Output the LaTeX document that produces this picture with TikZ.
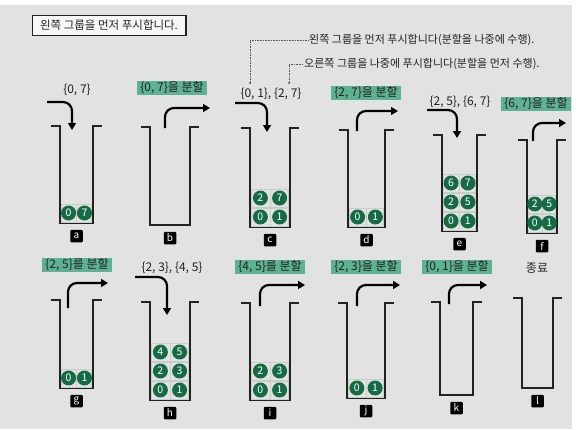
\documentclass[tikz,border=0pt]{standalone}
\usepackage{fontspec}
\setmainfont{Noto Sans CJK KR}
\usepackage{tikz}
\usetikzlibrary{arrows.meta,calc}
\definecolor{cPaper}{RGB}{226,226,226}
\definecolor{cInk}  {RGB}{34,34,34}
\definecolor{cBall} {RGB}{22,107,71}
\definecolor{cMark} {RGB}{92,178,146}
\definecolor{cCell} {RGB}{200,206,202}
\tikzset{
  wall/.style={draw=cInk,line width=1.3pt},
  tag/.style={fill=black,text=white,rounded corners=1pt,minimum size=12.5pt,
              inner sep=0pt,font=\fontsize{10}{10}\selectfont},
  ball/.style={circle,fill=cBall,minimum size=15pt,inner sep=0pt,text=white,
               font=\fontsize{10.5}{10.5}\selectfont},
  cell/.style={draw=cCell,line width=0.7pt},
  push/.style={-{Triangle[length=7pt,width=8pt]},draw=black,line width=2.2pt,
               rounded corners=9pt},
  txt/.style={text=cInk,inner sep=1pt,font=\fontsize{12}{14}\selectfont},
  hilite/.style={txt,fill=cMark,inner xsep=3pt,inner ysep=0.5pt},
  note/.style={txt,font=\fontsize{11}{13}\selectfont},
  dotline/.style={densely dotted,gray!70!black,line width=0.6pt},
}
% jar: name, left wall, right wall, top, bottom
\newcommand{\jar}[5]{%
  \coordinate (#1tl) at (#2,#4); \coordinate (#1bl) at (#2,#5);
  \coordinate (#1br) at (#3,#5); \coordinate (#1tr) at (#3,#4);
  \draw[wall] ($(#1tl)+(-9,0)$) -- (#1tl) -- (#1bl) -- (#1br) -- (#1tr) -- ++(9,0);
  \node[tag] (#1tag) at ($(#1bl)!0.5!(#1br)+(0,13)$) {#1};}
% one stacked group: jar, level, left number, right number
\newcommand{\grp}[4]{%
  \draw[cell] ($(#1bl)+(1.5,{-19*(#2-1)-1})$) rectangle ($(#1br)+(-1.5,{-19*#2})$);
  \draw[cell] ($(#1bl)!0.5!(#1br)+(0,{-19*(#2-1)-1})$) -- ++(0,-18);
  \node[ball] (#1g#2l) at ($(#1bl)!0.26!(#1br)+(0,{-19*#2+9})$) {#3};
  \node[ball] (#1g#2r) at ($(#1bl)!0.74!(#1br)+(0,{-19*#2+9})$) {#4};}

\begin{document}
\begin{tikzpicture}[x=1pt,y=-1pt]
  \useasboundingbox (0,0) rectangle (579,429);
  \fill[white] (0,0) rectangle (579,429);
  \fill[cPaper] (0,5) rectangle (572,429);

  % title and the two notes
  \node[txt,font=\fontsize{11.5}{13}\selectfont,draw=cInk,thin,fill=gray!6,
        inner xsep=8pt,inner ysep=5pt] (title)
     at (109,25) {왼쪽 그룹을 먼저 푸시합니다.};
  \draw[cInk,line width=1.6pt] (title.north east) -- (title.south east) -- (title.south west);
  \node[note,anchor=west] (n1) at (308,40) {왼쪽 그룹을 먼저 푸시합니다(분할을 나중에 수행).};
  \node[note,anchor=west] (n2) at (303,64) {오른쪽 그룹을 나중에 푸시합니다(분할을 먼저 수행).};

  % first row
  \jar{a}{60}{93}{126}{223}
  \jar{b}{150}{190}{127}{225}
  \jar{c}{250}{290}{128}{227}
  \jar{d}{348}{385}{130}{227}
  \jar{e}{442}{477}{135}{231}
  \jar{f}{527}{557}{140}{233}
  % second row
  \jar{g}{60}{93}{300}{388}
  \jar{h}{150}{190}{302}{400}
  \jar{i}{250}{290}{303}{400}
  \jar{j}{347}{385}{303}{398}
  \jar{k}{440}{473}{302}{395}
  \jar{l}{522}{553}{298}{388}

  \grp{a}{1}{0}{7}
  \grp{c}{1}{0}{1}\grp{c}{2}{2}{7}
  \grp{d}{1}{0}{1}
  \grp{e}{1}{0}{1}\grp{e}{2}{2}{5}\grp{e}{3}{6}{7}
  \grp{f}{1}{0}{1}\grp{f}{2}{2}{5}
  \grp{g}{1}{0}{1}
  \grp{h}{1}{0}{1}\grp{h}{2}{2}{3}\grp{h}{3}{4}{5}
  \grp{i}{1}{0}{1}\grp{i}{2}{2}{3}
  \grp{j}{1}{0}{1}

  % what happens at each step
  \node[txt]    (aTxt) at (77,90)   {\{0, 7\}};
  \node[hilite] (bTxt) at (172,88)  {\{0, 7\}을 분할};
  \node[txt]    (cTxt) at (271,94)  {\{0, 1\}, \{2, 7\}};
  \node[hilite] (dTxt) at (366,93)  {\{2, 7\}을 분할};
  \node[txt]    (eTxt) at (460,102) {\{2, 5\}, \{6, 7\}};
  \node[hilite] (fTxt) at (536,104) {\{6, 7\}을 분할};
  \node[hilite] (gTxt) at (77,265)  {\{2, 5\}를 분할};
  \node[txt]    (hTxt) at (172,268) {\{2, 3\}, \{4, 5\}};
  \node[hilite] (iTxt) at (270,267) {\{4, 5\}를 분할};
  \node[hilite] (jTxt) at (366,267) {\{2, 3\}을 분할};
  \node[hilite] (kTxt) at (457,267) {\{0, 1\}을 분할};
  \node[txt]    (lTxt) at (537,268) {종료};

  \coordinate (d1) at (250,83);
  \coordinate (d2) at (289,83);
  \fill[gray!70!black] (d1) circle (1pt) (d2) circle (1pt);
  \draw[dotline] (d1) |- (n1.west);
  \draw[dotline] (d2) |- (n2.west);

  % push arrows
  \coordinate (aS) at (47,102);  \coordinate (aE) at (72,130);
  \coordinate (cS) at (235,103); \coordinate (cE) at (267,132);
  \coordinate (eS) at (427,110); \coordinate (eE) at (457,138);
  \coordinate (hS) at (135,277); \coordinate (hE) at (167,315);
  \foreach \s in {a,c,e,h}
    \draw[push] (\s S) -| (\s E);
  % pop arrows
  \coordinate (bS) at (165,128); \coordinate (bE) at (210,108);
  \coordinate (dS) at (357,131); \coordinate (dE) at (398,111);
  \coordinate (fS) at (533,141); \coordinate (fE) at (566,123);
  \coordinate (gS) at (68,308);  \coordinate (gE) at (108,283);
  \coordinate (iS) at (260,306); \coordinate (iE) at (305,285);
  \coordinate (jS) at (357,306); \coordinate (jE) at (400,285);
  \coordinate (kS) at (449,304); \coordinate (kE) at (487,285);
  \foreach \s in {b,d,f,g,i,j,k}
    \draw[push] (\s S) |- (\s E);
\end{tikzpicture}
\end{document}
